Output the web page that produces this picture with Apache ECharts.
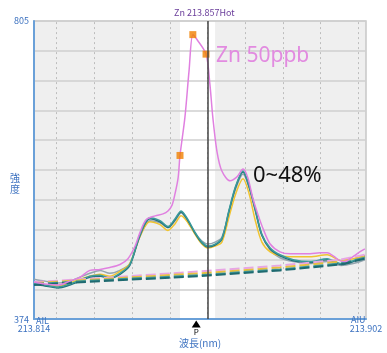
<!DOCTYPE html>
<html>
<head>
<meta charset="utf-8">
<script src="https://cdn.jsdelivr.net/npm/echarts@6/dist/echarts.min.js"></script>
<style>
  html, body { margin: 0; padding: 0; background: #fff; }
  #chart { width: 387px; height: 353px; }
</style>
</head>
<body>
<div id="chart"></div>
<script>
// wavelength range (nm) and intensity range
const xMin = 213.814, xMax = 213.902;
const yMin = 374, yMax = 805;
const peakWavelength = 213.857;
const bandStart = 213.8527, bandEnd = 213.8620;   // white (peak) window
const gridWavelengths = [213.82, 213.83, 213.84, 213.85, 213.86, 213.87, 213.88, 213.89, 213.90];

// Zn 50ppb spectrum (pink)
const pinkWavelength = [213.8140, 213.8169, 213.8204, 213.8235, 213.8262, 213.8288, 213.8315, 213.8341, 213.8368, 213.8389,
  213.8408, 213.8421, 213.8437, 213.8461, 213.8482, 213.8495, 213.8506, 213.8514, 213.8522, 213.8527,
  213.8540, 213.8551, 213.8561, 213.8572, 213.8596, 213.8606, 213.8614, 213.8625, 213.8638, 213.8660,
  213.8678, 213.8694, 213.8707, 213.8720, 213.8734, 213.8747, 213.8766, 213.8792, 213.8819, 213.8845,
  213.8872, 213.8898, 213.8917, 213.8933, 213.8951, 213.8964, 213.8978, 213.8996, 213.9017];
const pinkIntensity = [427.5, 424.7, 423.3, 428.9, 434.6, 444.4, 445.8, 448.6, 452.9, 461.3,
  479.6, 499.4, 517.7, 523.3, 526.1, 530.3, 538.8, 555.7, 578.2, 610.6,
  665.6, 733.2, 785.3, 778.2, 757.1, 714.9, 665.6, 616.3, 588.1, 574.0,
  579.6, 590.9, 578.2, 548.7, 524.7, 505.0, 482.5, 471.2, 468.4, 468.4,
  468.4, 469.8, 469.8, 465.5, 458.5, 457.1, 461.3, 468.4, 475.4];

// orange markers on the Zn peak
const markerWavelength = [213.8527, 213.8561, 213.8596];
const markerIntensity = [610.6, 785.3, 757.1];

// 0~48% spectra (shared wavelengths)
const wavelength = [213.8140, 213.8169, 213.8204, 213.8235, 213.8262, 213.8288, 213.8315, 213.8341, 213.8368, 213.8394,
  213.8421, 213.8447, 213.8474, 213.8495, 213.8514, 213.8530, 213.8548, 213.8567, 213.8585, 213.8601,
  213.8620, 213.8638, 213.8657, 213.8675, 213.8694, 213.8710, 213.8726, 213.8744, 213.8766, 213.8792,
  213.8827, 213.8872, 213.8917, 213.8954, 213.8986, 213.9017];
const tealIntensity = [426.1, 423.3, 420.5, 424.7, 430.3, 436.0, 437.4, 433.2, 440.2, 452.9,
  496.5, 520.5, 516.3, 507.8, 519.1, 530.3, 517.7, 499.4, 485.3, 479.6,
  482.5, 490.9, 531.8, 567.0, 588.1, 567.0, 534.6, 496.5, 476.8, 467.0,
  459.9, 457.1, 461.3, 454.3, 458.5, 465.5];
const darkTealIntensity = [424.7, 421.9, 419.1, 423.3, 428.9, 434.6, 436.0, 433.2, 438.8, 451.5,
  495.1, 519.1, 514.8, 506.4, 517.7, 528.9, 516.3, 498.0, 483.9, 478.2,
  481.0, 489.5, 530.3, 565.6, 586.7, 565.6, 533.2, 495.1, 475.4, 465.5,
  458.5, 455.7, 459.9, 452.9, 457.1, 464.1];
const grayIntensity = [431.7, 428.9, 426.1, 428.9, 434.6, 440.2, 444.4, 440.2, 444.4, 454.3,
  493.7, 516.3, 513.4, 506.4, 516.3, 527.5, 514.8, 497.9, 486.7, 482.5,
  485.3, 492.3, 528.9, 562.7, 583.9, 564.1, 531.8, 495.1, 474.0, 462.7,
  457.1, 454.3, 457.1, 451.5, 454.3, 459.9];
const yellowIntensity = [426.1, 423.3, 421.9, 426.1, 431.7, 436.0, 438.8, 436.0, 443.0, 454.3,
  493.7, 514.8, 510.6, 502.2, 512.0, 523.3, 513.4, 496.5, 482.5, 476.8,
  479.6, 485.3, 521.9, 555.7, 576.8, 555.7, 517.7, 485.3, 471.2, 465.5,
  464.1, 464.1, 467.0, 458.5, 461.3, 465.5];

// background (dashed) lines
const bgWavelength = [213.8140, 213.8315, 213.8580, 213.8792, 213.8951, 213.9017];
const pinkBg = [427.5, 433.2, 443.0, 451.5, 459.9, 467.0];
const yellowBg = [426.1, 431.7, 440.2, 448.6, 457.1, 464.1];
const tealBg = [424.7, 430.3, 437.4, 445.8, 454.3, 462.7];
const darkTealBg = [423.3, 428.9, 436.0, 444.4, 452.9, 461.3];

const pair = (xs, ys) => xs.map((x, i) => [x, ys[i]]);

const blueText = '#3d72c0';
const axisBlue = '#6aa0d8';
const font = '"Noto Sans CJK JP", "Noto Sans", sans-serif';

function solid(name, xs, ys, color, z) {
  return {
    name, type: 'line', data: pair(xs, ys), smooth: 0.3, symbol: 'none', z: z || 2,
    lineStyle: { color, width: 1.5 }
  };
}
function dashed(name, ys, color) {
  return {
    name, type: 'line', data: pair(bgWavelength, ys), symbol: 'none',
    lineStyle: { color, width: 2, type: [10, 4] }
  };
}

const chart = echarts.init(document.getElementById('chart'));
chart.setOption({
  animation: false,
  textStyle: { fontFamily: font },
  title: {
    text: 'Zn 213.857Hot', left: 169, top: 3,
    textStyle: { color: '#6a3d9a', fontSize: 9, fontWeight: 'normal', fontFamily: font }
  },
  grid: { left: 34, right: 21, top: 21, bottom: 26, show: true, borderColor: '#c8c8c8', borderWidth: 1.5, backgroundColor: 'transparent' },
  xAxis: {
    type: 'value', min: xMin, max: xMax,
    axisLine: { lineStyle: { color: axisBlue, width: 2 } },
    axisTick: { show: false },
    splitLine: { show: false },
    axisLabel: { customValues: [xMin, xMax], formatter: v => v.toFixed(3), color: blueText, fontSize: 9, margin: 5 },
    name: '波長(nm)', nameLocation: 'middle', nameGap: 10,
    nameTextStyle: { color: blueText, fontSize: 10 }
  },
  yAxis: {
    type: 'value', min: yMin, max: yMax, interval: 43.1,
    axisLine: { show: true, lineStyle: { color: axisBlue, width: 2 } },
    axisTick: { show: false },
    splitLine: { lineStyle: { color: '#cfcfcf', width: 1.5 } },
    axisLabel: {
      color: blueText, fontSize: 9, margin: 5,
      formatter: v => Math.abs(v - yMax) < 0.5 ? '805' : (Math.abs(v - yMin) < 0.5 ? '374' : '')
    }
  },
  graphic: [
    { type: 'text', left: 216, top: 46, z: 10, style: { text: 'Zn 50ppb', fill: '#e28be0', font: '21px "Noto Sans", sans-serif' } },
    { type: 'text', left: 253, top: 165, z: 10, style: { text: '0~48%', fill: '#111', font: '22px "Noto Sans", sans-serif' } },
    { type: 'text', left: 36, top: 316, z: 10, style: { text: 'AIL', fill: blueText, font: '9px ' + font } },
    { type: 'text', left: 351, top: 315, z: 10, style: { text: 'AIU', fill: blueText, font: '9px ' + font } },
    { type: 'text', left: 10, top: 173, z: 10, style: { text: '強\n度', fill: blueText, font: '10px ' + font, lineHeight: 11 } }
  ],
  series: [
    {
      // plot background with the white peak window and dotted verticals
      type: 'line', data: [[xMin, yMin]], symbol: 'none', z: -2, silent: true,
      lineStyle: { opacity: 0 },
      markArea: {
        silent: true, z: -2, itemStyle: { color: '#efefef' },
        data: [[{ xAxis: xMin }, { xAxis: bandStart }], [{ xAxis: bandEnd }, { xAxis: xMax }]]
      },
      markLine: {
        silent: true, z: -1, symbol: 'none', label: { show: false },
        lineStyle: { color: '#bdbdbd', type: [2, 3], width: 1 },
        data: gridWavelengths.map(v => ({ xAxis: v }))
      }
    },
    dashed('pink bg', pinkBg, '#e7a6e4'),
    dashed('yellow bg', yellowBg, '#e8c040'),
    dashed('teal bg', tealBg, '#3f9a9c'),
    dashed('dark teal bg', darkTealBg, '#1f6a70'),
    solid('gray', wavelength, grayIntensity, '#93a4ae'),
    solid('yellow', wavelength, yellowIntensity, '#f0c430'),
    solid('dark teal', wavelength, darkTealIntensity, '#22707a'),
    solid('teal', wavelength, tealIntensity, '#3a9a9a'),
    Object.assign(solid('Zn 50ppb', pinkWavelength, pinkIntensity, '#e080e0', 3), {
      markLine: {
        silent: true, symbol: 'none', label: { show: false },
        lineStyle: { color: '#444', width: 1.5, type: 'solid' },
        data: [{ xAxis: peakWavelength }]
      },
      markPoint: {
        silent: true, symbol: 'triangle', symbolSize: [9, 7], symbolOffset: [0, 5],
        itemStyle: { color: '#000' },
        label: { show: true, position: 'bottom', distance: 0, formatter: 'P', fontSize: 8, color: '#000' },
        data: [{ coord: [peakWavelength, yMin] }]
      }
    }),
    {
      name: 'markers', type: 'scatter', z: 4,
      data: pair(markerWavelength, markerIntensity),
      symbol: 'rect', symbolSize: 7,
      itemStyle: { color: '#f08000' }
    }
  ]
});
</script>
</body>
</html>
